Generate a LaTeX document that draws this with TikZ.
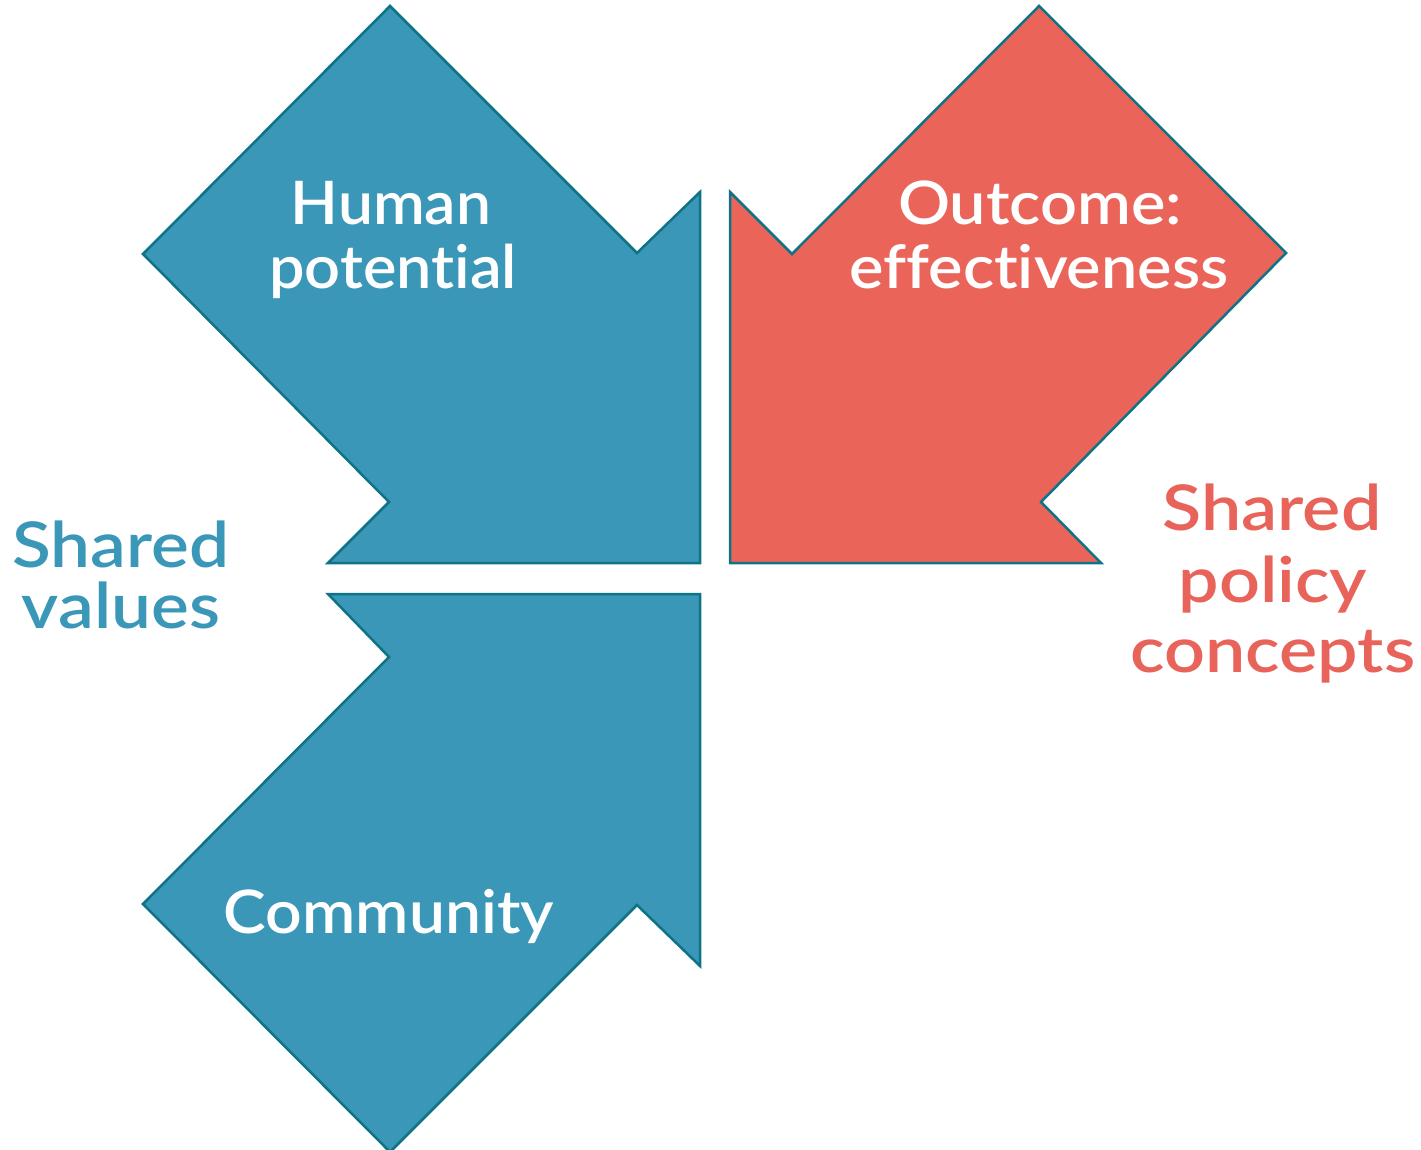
\documentclass[tikz,border=0pt]{standalone}
\usepackage{graphicx}
\usepackage{fontspec}
\setmainfont{Lato}[UprightFont=* Semibold, BoldFont=* Bold, Ligatures={NoCommon,NoRequired,NoContextual}]
\definecolor{arrowblue}{HTML}{3A97B8}
\definecolor{arrowred}{HTML}{EB6459}
\definecolor{edgeteal}{HTML}{0F7387}
\definecolor{txtblue}{HTML}{3A97B8}
\definecolor{txtred}{HTML}{E8635A}
\newcommand{\wide}[2]{\scalebox{#1}[1]{#2}}
\tikzset{
  bluearrow/.style={fill=arrowblue, draw=edgeteal, line width=2.5pt, line join=miter},
  redarrow/.style={fill=arrowred, draw=edgeteal, line width=2.5pt, line join=miter},
  inlbl/.style={text=white, font=\fontsize{60}{63}\selectfont, anchor=base, inner sep=0pt},
  outblue/.style={text=txtblue, font=\fontsize{63}{68}\selectfont, anchor=base, inner sep=0pt},
  outred/.style={text=txtred, font=\fontsize{63}{70}\selectfont, anchor=base, inner sep=0pt}
}
\begin{document}
\begin{tikzpicture}[x=1pt,y=-1pt]
\useasboundingbox (0,0) rectangle (1421,1150);
% top-left blue arrow
\path[bluearrow] (390,6) -- (637,253) -- (700,192) -- (700,563) -- (328,563) -- (389,502) -- (143,254) -- cycle;
% red arrow
\path[redarrow] (1039,6) -- (1286,253) -- (1041,502) -- (1101,563) -- (730,563) -- (730,192) -- (792,254) -- cycle;
% bottom blue arrow
\path[bluearrow] (328,594) -- (700,594) -- (700,966) -- (637,905) -- (390,1152) -- (143,904) -- (389,657) -- cycle;
% labels inside arrows
\node[inlbl] (hp1) at (391,225) {\wide{1.04}{Human}};
\node[inlbl] (hp2) at (393,288) {\wide{1.05}{potential}};
\node[inlbl] (oe1) at (1040,225) {\wide{1.08}{Outcome:}};
\node[inlbl] (oe2) at (1039,288) {\wide{1.08}{effectiveness}};
\node[inlbl] (com) at (389,933) {\wide{1.07}{Community}};
% outside labels
\node[outblue] (sv1) at (121,567) {\wide{1.13}{Shared}};
\node[outblue] (sv2) at (121,628) {\wide{1.13}{values}};
\node[outred] (sp1) at (1272,530) {\wide{1.14}{Shared}};
\node[outred] (sp2) at (1273,602) {\wide{1.14}{policy}};
\node[outred] (sp3) at (1273,672) {\wide{1.14}{concepts}};
\end{tikzpicture}
\end{document}
